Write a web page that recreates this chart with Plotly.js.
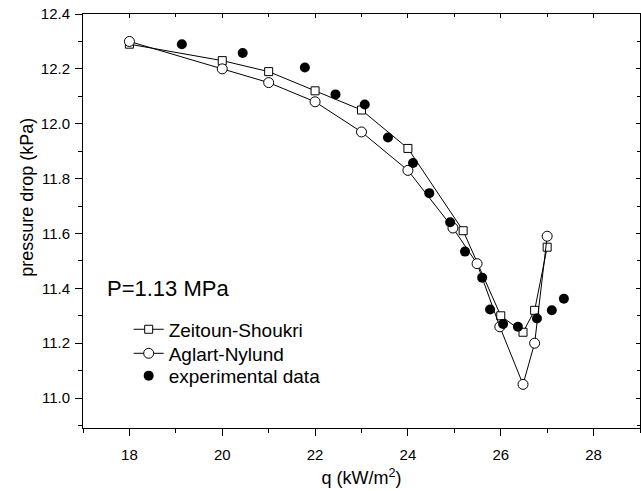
<!DOCTYPE html>
<html>
<head>
<meta charset="utf-8">
<script src="https://cdn.plot.ly/plotly-3.0.1.min.js"></script>
<style>html,body{margin:0;padding:0;background:#fff}#chart{width:641px;height:491px}</style>
</head>
<body>
<div id="chart"></div>
<script>
// Zeitoun-Shoukri model
const zsQ = [18, 20, 21, 22, 23, 24, 25.19, 26.0, 26.48, 26.73, 27.0];
const zsDP = [12.29, 12.23, 12.19, 12.12, 12.05, 11.91, 11.61, 11.30, 11.24, 11.32, 11.55];
// Aglart-Nylund model
const anQ = [18, 20, 21, 22, 23, 24, 24.97, 25.49, 25.98, 26.48, 26.73, 27.0];
const anDP = [12.30, 12.20, 12.15, 12.08, 11.97, 11.83, 11.62, 11.49, 11.26, 11.05, 11.20, 11.59];
// experimental data
const expQ = [19.13, 20.44, 21.78, 22.44, 23.07, 23.57, 24.11, 24.46, 24.91, 25.23, 25.6, 25.77, 26.05, 26.37, 26.78, 27.1, 27.36];
const expDP = [12.29, 12.258, 12.205, 12.107, 12.07, 11.95, 11.857, 11.747, 11.641, 11.534, 11.439, 11.323, 11.27, 11.26, 11.29, 11.32, 11.362];

const xRange = [17, 29];
const yRange = [10.891, 12.4];
const fontFam = 'Liberation Sans, Arial, sans-serif';

const traces = [
  {x: zsQ, y: zsDP, name: 'Zeitoun-Shoukri', mode: 'lines+markers', type: 'scatter', legend: 'legend',
   line: {color: '#000', width: 1},
   marker: {symbol: 'square', size: 8, color: '#fff', line: {color: '#000', width: 1}}},
  {x: anQ, y: anDP, name: 'Aglart-Nylund', mode: 'lines+markers', type: 'scatter', legend: 'legend2',
   line: {color: '#000', width: 1},
   marker: {symbol: 'circle', size: 10, color: '#fff', line: {color: '#000', width: 1}}},
  {x: expQ, y: expDP, name: 'experimental data', mode: 'markers', type: 'scatter', legend: 'legend3',
   marker: {symbol: 'circle', size: 10, color: '#000'}},
  {x: [], y: [], xaxis: 'x2', yaxis: 'y2', showlegend: false, type: 'scatter', hoverinfo: 'skip'}
];

const legBase = {xanchor: 'left', yanchor: 'top', bgcolor: 'rgba(0,0,0,0)',
                 font: {size: 19, family: fontFam}, tracegroupgap: 0, itemwidth: 30};

const layout = {
  width: 641, height: 491,
  margin: {l: 83, r: 1, t: 14, b: 63},
  paper_bgcolor: '#fff', plot_bgcolor: '#fff',
  font: {family: fontFam, color: '#000', size: 15},
  showlegend: true,
  legend: Object.assign({x: 0.082, y: 0.284}, legBase),
  legend2: Object.assign({x: 0.082, y: 0.226}, legBase),
  legend3: Object.assign({x: 0.082, y: 0.172}, legBase),
  xaxis: {range: xRange, showgrid: false, zeroline: false, showline: true, linecolor: '#000', linewidth: 1,
          ticks: 'outside', ticklen: 7, tickwidth: 1, tickcolor: '#000', dtick: 2, tick0: 0,
          minor: {dtick: 1, ticks: 'outside', ticklen: 4, tickcolor: '#000', showgrid: false},
          tickfont: {size: 15}, ticklabelstandoff: 6,
          title: {text: 'q (kW/m<sup>2</sup>)', font: {size: 18}, standoff: 9}},
  yaxis: {range: yRange, showgrid: false, zeroline: false, showline: true, linecolor: '#000', linewidth: 1,
          ticks: 'outside', ticklen: 7, tickwidth: 1, tickcolor: '#000', dtick: 0.2, tick0: 11.0,
          tickformat: '.1f',
          minor: {dtick: 0.1, ticks: 'outside', ticklen: 4, tickcolor: '#000', showgrid: false},
          tickfont: {size: 15}, ticklabelstandoff: 2},
  xaxis2: {range: xRange, overlaying: 'x', side: 'top', anchor: 'y2', showgrid: false, zeroline: false,
           showline: true, linecolor: '#000', linewidth: 1, ticks: 'inside', ticklen: 4, tickcolor: '#000',
           dtick: 2, tick0: 0, showticklabels: false,
           minor: {dtick: 1, ticks: 'inside', ticklen: 3, tickcolor: '#000', showgrid: false}},
  yaxis2: {range: yRange, overlaying: 'y', side: 'right', anchor: 'x2', showgrid: false, zeroline: false,
           showline: true, linecolor: '#000', linewidth: 1, ticks: 'inside', ticklen: 4, tickcolor: '#000',
           dtick: 0.2, tick0: 11.0, showticklabels: false,
           minor: {dtick: 0.1, ticks: 'inside', ticklen: 3, tickcolor: '#000', showgrid: false}},
  annotations: [
    {text: 'P=1.13 MPa', xref: 'paper', yref: 'paper', x: 0.04, y: 0.338, xanchor: 'left', yanchor: 'middle',
     showarrow: false, font: {size: 22, family: fontFam}},
    {text: 'pressure drop (kPa)', xref: 'paper', yref: 'paper', x: -0.1005, y: 0.556, xanchor: 'center', yanchor: 'middle',
     textangle: -90, showarrow: false, font: {size: 18, family: fontFam}}
  ]
};

Plotly.newPlot('chart', traces, layout, {displayModeBar: false, staticPlot: true});
</script>
</body>
</html>
